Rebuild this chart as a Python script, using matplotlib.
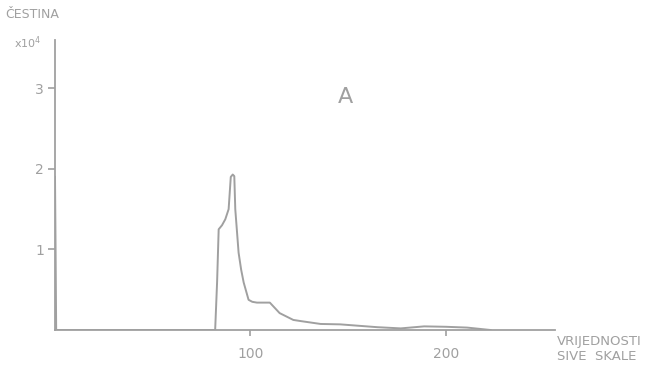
import matplotlib
matplotlib.use("Agg")
import matplotlib.pyplot as plt

# Histogram curve (gray value, frequency x10^4)
gray_values = [0, 0.3, 0.6, 82, 83, 83.8, 85.5, 87.2, 88.9, 90, 91, 91.8, 92.3, 94, 95.3,
               96.6, 99.1, 101, 103.4, 110, 115, 122, 126, 136, 146, 165, 177, 189, 200,
               211, 223]
frequency = [1.9, 1.0, 0.0, 0.0, 0.6, 1.25, 1.3, 1.375, 1.5, 1.9, 1.93, 1.91, 1.5, 0.96,
             0.75, 0.59, 0.375, 0.35, 0.34, 0.34, 0.21, 0.125, 0.11, 0.075, 0.07, 0.035,
             0.02, 0.045, 0.04, 0.03, 0.0]

x_ticks = [100, 200]
y_ticks = [1, 2, 3]

C = "#a0a0a0"

fig = plt.figure(figsize=(6.49, 3.65), dpi=100)
ax = fig.add_axes([55/649, 35/365, 500/649, 290/365])
ax.plot(gray_values, frequency, color=C, lw=1.4, solid_joinstyle="round")
ax.set_xlim(0, 256)
ax.set_ylim(0, 3.6)

for s in ["top", "right"]:
    ax.spines[s].set_visible(False)
for s in ["left", "bottom"]:
    ax.spines[s].set_color(C)
    ax.spines[s].set_linewidth(1.3)

ax.set_xticks(x_ticks)
ax.set_xticklabels([str(v) for v in x_ticks])
ax.set_yticks(y_ticks)
ax.set_yticklabels([str(v) for v in y_ticks])
ax.tick_params(axis="x", colors=C, length=4, width=1.2, labelsize=10, pad=8)
ax.tick_params(axis="y", colors=C, length=5, width=1.2, labelsize=10, pad=3)

fig.text(5/649, 1 - 15/365, "ČESTINA", color=C, fontsize=9, va="center", ha="left")
fig.text(14/649, 1 - 43/365, "x10$^4$", color=C, fontsize=8, va="center", ha="left")
fig.text(345/649, 1 - 97/365, "A", color=C, fontsize=16, va="center", ha="center")
fig.text(557/649, 1 - 341/365, "VRIJEDNOSTI", color=C, fontsize=9.5, va="center", ha="left")
fig.text(557/649, 1 - 357/365, "SIVE  SKALE", color=C, fontsize=9.5, va="center", ha="left")

fig.savefig("out.png", dpi=100, facecolor="white")
